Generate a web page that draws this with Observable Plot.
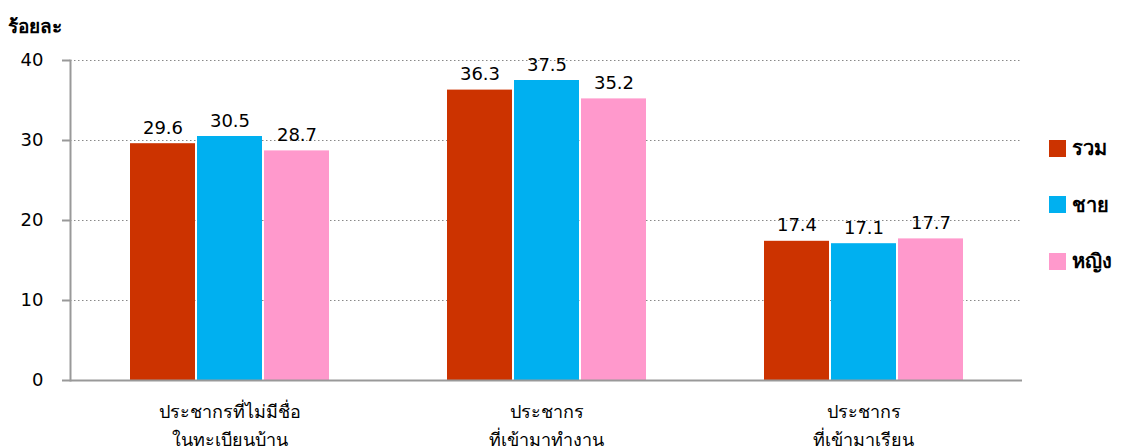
<!DOCTYPE html>
<html><head><meta charset="utf-8">
<script src="https://cdn.jsdelivr.net/npm/d3@7"></script>
<script src="https://cdn.jsdelivr.net/npm/@observablehq/plot@0.6"></script>
<style>
body{margin:0;background:#fff;font-family:"DejaVu Sans","Noto Sans",sans-serif;color:#000}
#wrap{position:relative;width:1121px;height:447px;overflow:hidden}
#title{position:absolute;left:8px;top:11px;font-weight:bold;font-size:19px}
#legend{position:absolute;left:1049px;top:136px}
.li{display:flex;align-items:center;height:24px;margin-bottom:32.5px;font-weight:bold;font-size:20px}
.sw{width:17px;height:17px;margin-right:6px}
</style></head><body>
<div id="wrap"><div id="title">ร้อยละ</div><div id="legend"></div></div>
<script>
const categories = ["ประชากรที่ไม่มีชื่อ\nในทะเบียนบ้าน", "ประชากร\nที่เข้ามาทำงาน", "ประชากร\nที่เข้ามาเรียน"];
const series = ["รวม", "ชาย", "หญิง"];
const total = [29.6, 36.3, 17.4];
const male = [30.5, 37.5, 17.1];
const female = [28.7, 35.2, 17.7];
const colors = ["#CC3300", "#00B0F0", "#FF99CC"];
const yTicks = [0, 10, 20, 30, 40];

const values = [total, male, female];
const rows = categories.flatMap((c, i) => series.map((s, j) => ({cat: c, ser: s, v: values[j][i]})));

const W = 1121, ML = 70, MR = 99, PI = 0.37, PO = 0.185;
// offset of first facet from the frame's left edge (axes are drawn in that facet)
const fxScale = d3.scaleBand(categories, [ML, W - MR]).paddingInner(PI).paddingOuter(PO).round(true);
const off = fxScale(categories[0]) - ML;
const span = W - ML - MR;

const chart = Plot.plot({
  width: W, height: 447,
  marginLeft: ML, marginRight: MR, marginTop: 60, marginBottom: 67,
  style: {fontSize: "18px", fontFamily: "'DejaVu Sans','Noto Sans',sans-serif", color: "#000", background: "#fff"},
  fx: {domain: categories, paddingInner: PI, paddingOuter: PO, label: null},
  x: {domain: series, paddingInner: 0.03, paddingOuter: 0, axis: null},
  y: {domain: [0, 40], label: null},
  color: {domain: series, range: colors},
  marks: [
    Plot.axisY({ticks: yTicks.filter(d => d > 0), tickSize: -span, dx: -off, text: null, stroke: "#888", strokeDasharray: "1.5,2.5", label: null}),
    Plot.barY(rows, {fx: "cat", x: "ser", y: "v", fill: "ser"}),
    Plot.text(rows, {fx: "cat", x: "ser", y: "v", text: d => d.v.toFixed(1), lineAnchor: "bottom", dy: -10, fontSize: 18, fill: "#000"}),
    Plot.axisY({ticks: [0], tickSize: -span, dx: -off, text: null, stroke: "#999", strokeWidth: 2, label: null}),
    Plot.frame({anchor: "left", facetAnchor: "left", dx: -off, stroke: "#999", strokeWidth: 2}),
    Plot.axisY({ticks: yTicks, tickSize: 8, tickPadding: 19, dx: -off, stroke: "#999", strokeWidth: 2, fontSize: 18, fill: "#000", label: null}),
    Plot.axisFx({anchor: "bottom", label: null, tickSize: 0, tickPadding: 18, fontSize: 18, lineHeight: 1.55, fill: "#000"})
  ]
});
document.getElementById("wrap").prepend(chart);

const legend = document.getElementById("legend");
series.forEach((s, i) => {
  const d = document.createElement("div");
  d.className = "li";
  d.innerHTML = `<span class="sw" style="background:${colors[i]}"></span><span>${s}</span>`;
  legend.appendChild(d);
});
</script>
</body></html>
